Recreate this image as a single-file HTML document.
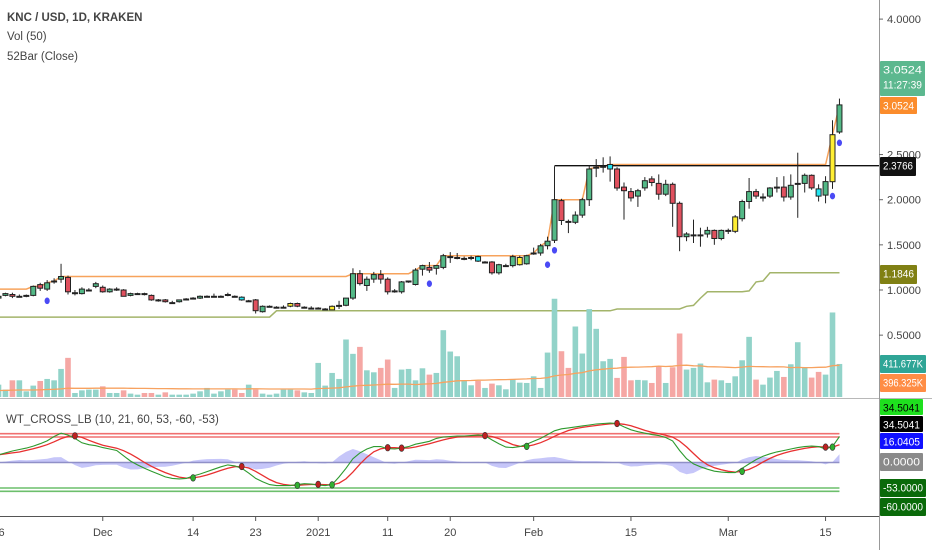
<!DOCTYPE html>
<html><head><meta charset="utf-8"><style>
html,body{margin:0;padding:0;background:#fff;width:932px;height:550px;overflow:hidden}
svg{display:block;font-family:"Liberation Sans",sans-serif}
</style></head><body>
<svg id="chart" width="932" height="550" viewBox="0 0 932 550">
<rect x="0" y="0" width="932" height="550" fill="#ffffff"/>
<g id="grid">
<line x1="0" y1="398.5" x2="932" y2="398.5" stroke="#b8b8b8" stroke-width="1"/>
<line x1="0" y1="516.5" x2="879" y2="516.5" stroke="#555" stroke-width="1"/>
<line x1="879.5" y1="0" x2="879.5" y2="550" stroke="#999" stroke-width="1"/>
</g>
<g id="priceg"></g><g id="volg"></g><g id="oscg"></g><g id="axisg"></g>
<g fill="#444" font-size="11.5">
<text x="7" y="21" font-weight="bold">KNC / USD, 1D, KRAKEN</text>
<text x="7" y="40">Vol (50)</text>
<text x="7" y="60">52Bar (Close)</text>
<text x="6" y="423">WT_CROSS_LB (10, 21, 60, 53, -60, -53)</text>
</g>
</svg>
<script>
const opens=[0.91,0.94,0.95,0.93,0.93,0.94,1.06,1.01,1.09,1.12,1.14,0.97,0.96,1.00,1.04,1.03,0.98,1.01,1.00,0.94,0.96,0.96,0.94,0.89,0.89,0.86,0.87,0.90,0.91,0.91,0.93,0.93,0.93,0.94,0.93,0.92,0.88,0.89,0.76,0.82,0.81,0.81,0.82,0.85,0.81,0.80,0.80,0.79,0.78,0.82,0.83,0.91,1.18,1.05,1.12,1.17,1.12,0.98,0.98,1.09,1.06,1.23,1.25,1.24,1.25,1.37,1.36,1.35,1.35,1.37,1.31,1.31,1.19,1.27,1.27,1.28,1.29,1.40,1.41,1.49,1.55,1.99,1.76,1.75,1.83,2.00,2.35,2.36,2.34,2.34,2.14,2.09,2.04,2.13,2.23,2.18,2.06,2.17,1.96,1.59,1.61,1.61,1.62,1.66,1.57,1.66,1.65,1.79,1.98,2.09,2.03,2.04,2.14,2.14,2.03,2.17,2.18,2.27,2.12,2.05,2.20,2.75];
const highs=[0.94,0.97,0.97,0.95,0.95,1.05,1.08,1.11,1.13,1.29,1.16,1.00,1.03,1.02,1.09,1.05,1.02,1.03,1.01,0.97,0.97,0.97,0.95,0.90,0.90,0.88,0.89,0.91,0.92,0.94,0.94,0.96,0.94,0.97,0.94,0.93,0.89,0.90,0.83,0.83,0.82,0.83,0.86,0.86,0.82,0.82,0.81,0.80,0.83,0.88,0.91,1.24,1.22,1.15,1.20,1.22,1.14,1.01,1.10,1.10,1.24,1.28,1.31,1.27,1.40,1.42,1.41,1.37,1.38,1.38,1.32,1.32,1.29,1.29,1.39,1.38,1.39,1.47,1.51,1.59,2.37,2.01,1.78,1.87,2.02,2.38,2.45,2.47,2.48,2.36,2.19,2.13,2.12,2.25,2.26,2.28,2.22,2.19,1.98,1.64,1.78,1.69,1.70,1.67,1.67,1.68,1.83,2.00,2.24,2.12,2.07,2.14,2.25,2.26,2.28,2.52,2.29,2.28,2.17,2.26,2.88,3.12];
const lows=[0.90,0.93,0.91,0.92,0.92,0.93,0.99,0.99,1.07,1.08,0.95,0.94,0.95,0.99,1.02,0.97,0.97,0.99,0.93,0.93,0.95,0.94,0.88,0.87,0.86,0.85,0.86,0.89,0.90,0.90,0.92,0.92,0.92,0.93,0.92,0.88,0.87,0.74,0.75,0.81,0.80,0.80,0.81,0.81,0.80,0.79,0.79,0.78,0.78,0.79,0.82,0.89,1.05,0.99,1.08,1.07,0.95,0.97,0.96,1.08,1.05,1.16,1.19,1.17,1.23,1.30,1.34,1.33,1.33,1.31,1.30,1.17,1.17,1.26,1.25,1.27,1.28,1.39,1.38,1.45,1.52,1.72,1.63,1.73,1.80,1.93,2.25,2.30,2.20,2.10,1.78,1.98,1.92,2.10,2.15,2.00,2.04,1.70,1.43,1.54,1.52,1.48,1.58,1.50,1.55,1.62,1.63,1.76,1.90,2.01,1.98,2.02,2.08,1.98,2.00,1.80,2.08,2.11,1.98,1.96,2.12,2.73];
const closes=[0.93,0.96,0.93,0.93,0.94,1.04,1.02,1.08,1.10,1.15,0.98,0.97,1.01,1.00,1.07,0.98,1.01,1.01,0.93,0.96,0.96,0.95,0.89,0.89,0.87,0.86,0.89,0.90,0.91,0.93,0.93,0.93,0.93,0.95,0.92,0.89,0.88,0.77,0.82,0.82,0.81,0.81,0.85,0.82,0.81,0.80,0.80,0.79,0.82,0.83,0.91,1.18,1.07,1.12,1.17,1.12,0.98,0.99,1.09,1.10,1.22,1.27,1.22,1.27,1.38,1.37,1.36,1.35,1.36,1.32,1.31,1.19,1.28,1.27,1.37,1.36,1.38,1.41,1.49,1.54,2.00,1.77,1.75,1.83,2.00,2.34,2.36,2.37,2.39,2.13,2.10,2.02,2.10,2.21,2.19,2.06,2.17,1.96,1.59,1.62,1.61,1.61,1.66,1.57,1.66,1.66,1.81,1.98,2.09,2.04,2.03,2.13,2.14,2.03,2.16,2.18,2.27,2.13,2.04,2.20,2.72,3.05];
const volumesK=[154,92,208,208,71,142,200,225,208,350,488,50,83,92,92,133,50,50,83,42,29,50,50,29,58,29,29,29,42,71,113,42,71,92,92,50,154,92,42,29,42,92,92,83,58,50,425,142,300,225,717,538,625,333,308,363,467,113,342,350,208,358,279,300,833,567,508,208,146,200,113,167,146,96,217,179,175,258,113,554,1225,571,363,879,542,1096,850,446,475,238,500,208,213,208,175,383,175,371,792,342,363,417,183,217,208,175,258,458,750,217,154,242,325,250,408,683,371,242,313,279,1054,412];
const wt1=[16,20,24,27,30,34,39,45,54,61,57,50,41,37,35,31,28,25,14,3,-5,-12,-18,-24,-30,-33,-34,-33,-28,-24,-19,-14,-9,-5,-7,-12,-22,-33,-40,-46,-48,-48,-48,-46,-44,-45,-47,-48,-46,-30,-12,8,20,28,33,33,29,28,30,33,38,41,44,50,53,54,55,55,56,57,56,47,39,32,31,33,38,44,50,58,66,70,72,74,76,78,80,81,82,81,74,68,64,61,58,56,52,45,25,8,-3,-9,-14,-18,-20,-21,-21,-12,-3,6,13,18,22,25,28,31,33,34,33,28,33,54];
const yellowBars=[42,48,75,106,120];
const cyanBars=[35,69,88,118];
const pivotIdx=[7,62,79,80,120,121];
const pivotPrice=[0.88,1.07,1.28,1.44,2.04,2.63];
const priceTicks=[4.0,2.5,2.0,1.5,1.0,0.5];
const priceTickLabels=["4.0000","2.5000","2.0000","1.5000","1.0000","0.5000"];
const dateTickIdx=[0,15,28,37,46,56,65,77,91,105,119];
const dateTickLabels=["16","Dec","14","23","2021","11","20","Feb","15","Mar","15"];
const hLineLevel=2.3766;
const oscLevels=[60,53,-53,-60];
const priorHigh=1.01, priorHighUntil=4, priorLow=0.70, priorLowUntil=39, priorVolK=80;

const NS="http://www.w3.org/2000/svg";
const step=6.95, x0=-1.5;
const X=i=>x0+i*step;
const Y=p=>290-(p-1)*90.3;
const VY=v=>397-v*0.0802;
const OY=v=>462.5-v*0.481;
function mk(tag,attrs,parent){const e=document.createElementNS(NS,tag);for(const k in attrs)e.setAttribute(k,attrs[k]);parent.appendChild(e);return e;}
const pg=document.getElementById('priceg'),vg=document.getElementById('volg'),og=document.getElementById('oscg'),ag=document.getElementById('axisg');
const N=closes.length;

const vma=[];
for(let i=0;i<N;i++){let s=0;for(let j=i-49;j<=i;j++)s+=j<0?priorVolK:volumesK[j];vma.push(s/50);}
for(let i=0;i<N;i++){
 const up=closes[i]>=opens[i];
 const r=mk('rect',{x:(X(i)-2.8).toFixed(2),y:VY(volumesK[i]).toFixed(2),width:5.6,height:(397-VY(volumesK[i])).toFixed(2),fill:up?'#92d3c9':'#f5a7a4'},vg);
 
 
}
const vl=mk('polyline',{points:vma.map((v,i)=>X(i).toFixed(1)+','+VY(v).toFixed(1)).join(' '),fill:'none',stroke:'#f7a260','stroke-width':1.3},vg);



const hi=[],lo=[];
for(let i=0;i<N;i++){let mx=-1e9,mn=1e9;for(let j=Math.max(0,i-51);j<=i;j++){mx=Math.max(mx,closes[j]);mn=Math.min(mn,closes[j]);}
 if(i<=priorHighUntil)mx=Math.max(mx,priorHigh); if(i<=priorLowUntil)mn=Math.min(mn,priorLow); hi.push(mx);lo.push(mn);}
const hl=mk('polyline',{points:hi.map((v,i)=>X(i).toFixed(1)+','+Y(v).toFixed(1)).join(' '),fill:'none',stroke:'#f7a35c','stroke-width':1.5},pg);


const ll=mk('polyline',{points:lo.map((v,i)=>X(i).toFixed(1)+','+Y(v).toFixed(1)).join(' '),fill:'none',stroke:'#a3b46a','stroke-width':1.5},pg);


const hz=mk('line',{x1:X(80),y1:Y(hLineLevel),x2:879,y2:Y(hLineLevel),stroke:'#111','stroke-width':1.3},pg);



for(let i=0;i<N;i++){
 const up=closes[i]>=opens[i];
 let col=up?'#53b987':'#e0505e';
 if(yellowBars.includes(i))col='#ffee33'; if(cyanBars.includes(i))col='#22e5f0';
 const g=mk('g',{},pg);
 
 
 const cx=X(i);
 mk('line',{x1:cx,x2:cx,y1:Y(highs[i]).toFixed(1),y2:Y(lows[i]).toFixed(1),stroke:'#222','stroke-width':1},g);
 const t=Y(Math.max(opens[i],closes[i])),b=Y(Math.min(opens[i],closes[i]));
 mk('rect',{x:(cx-2.5).toFixed(2),y:t.toFixed(1),width:5,height:Math.max(1,b-t).toFixed(1),fill:col,stroke:'#222','stroke-width':1},g);
}
for(let k=0;k<pivotIdx.length;k++){
 const d=mk('ellipse',{cx:X(pivotIdx[k]),cy:Y(pivotPrice[k]),rx:2.6,ry:3.3,fill:'#4a4af5'},pg);
 
 
}

const wt2=[];
for(let i=0;i<N;i++){let s=0,c=0;for(let j=Math.max(0,i-3);j<=i;j++){s+=wt1[j];c++;}wt2.push(s/c);}
for(let k=0;k<oscLevels.length;k++){
 const l=mk('line',{x1:0,x2:X(N-1),y1:OY(oscLevels[k]),y2:OY(oscLevels[k]),stroke:k<2?'#f07070':'#6cbf6c','stroke-width':1.6},og);
 
 
}
let ap='M'+X(0).toFixed(1)+','+OY(0);
for(let i=0;i<N;i++)ap+=' L'+X(i).toFixed(1)+','+OY(wt1[i]-wt2[i]).toFixed(1);
ap+=' L'+X(N-1).toFixed(1)+','+OY(0)+' Z';
const ar=mk('path',{d:ap,fill:'rgba(120,120,240,0.42)',stroke:'none'},og);


const zl=mk('line',{x1:0,x2:X(N-1),y1:OY(0),y2:OY(0),stroke:'#9090c8','stroke-width':1.6},og);


const l2=mk('polyline',{points:wt2.map((v,i)=>X(i).toFixed(1)+','+OY(v).toFixed(1)).join(' '),fill:'none',stroke:'#e83030','stroke-width':1.3},og);


const l1=mk('polyline',{points:wt1.map((v,i)=>X(i).toFixed(1)+','+OY(v).toFixed(1)).join(' '),fill:'none',stroke:'#2e9a2e','stroke-width':1.1},og);


for(let i=1;i<N;i++){
 const a=wt1[i-1]-wt2[i-1],b=wt1[i]-wt2[i];
 if(a*b<0||(a!==0&&b===0)){
  const dn=b<=0;
  const c=mk('ellipse',{cx:X(i),cy:OY(wt2[i]).toFixed(1),rx:2.5,ry:3.3,fill:dn?'#c02020':'#30b030',stroke:'#333','stroke-width':0.6},og);
  
  
 }
}

for(let k=0;k<priceTicks.length;k++){
 const y=Y(priceTicks[k]);
 mk('line',{x1:879,x2:883,y1:y,y2:y,stroke:'#666'},ag);
 const t=mk('text',{x:887,y:y+4,'font-size':11,fill:'#444',textLength:34,lengthAdjust:'spacingAndGlyphs'},ag);
 t.textContent=priceTickLabels[k];
 
 
}
for(let k=0;k<dateTickIdx.length;k++){
 const x=X(dateTickIdx[k]);
 mk('line',{x1:x,x2:x,y1:517,y2:521,stroke:'#555'},ag);
 const t=mk('text',{x:x,y:536,'font-size':11,fill:'#444','text-anchor':'middle'},ag);
 t.textContent=dateTickLabels[k];
 
 
}
function badge(y,h,w,bg,fg,lines,name){
 const g=mk('g',{},ag);
 
 
 mk('rect',{x:880,y:y,width:w,height:h,fill:bg,rx:1},g);
 lines.forEach((s,j)=>{const t=mk('text',{x:883,y:y+12.5+j*15,'font-size':11,fill:fg,textLength:w-6,lengthAdjust:'spacingAndGlyphs'},g);t.textContent=s;});
}
badge(61,35,45,'#5cb88f','#fff',['3.0524','11:27:39'],'last-price-badge');
badge(97,17,37,'#fb8c2c','#fff',['3.0524'],'ma-price-badge');
badge(157,19,36,'#111','#fff',['2.3766'],'line-price-badge');
badge(265,19,37,'#808014','#fff',['1.1846'],'52bar-low-badge');
badge(355,18,46,'#2fa596','#fff',['411.677K'],'volume-badge');
badge(374,18,46,'#ff8d45','#fff',['396.325K'],'volume-ma-badge');
badge(399,16,43,'#1ee01e','#000',['34.5041'],'wt1-badge');
badge(416,16,43,'#000','#fff',['34.5041'],'wt-level-badge');
badge(433,16,43,'#1010ff','#fff',['16.0405'],'wt2-badge');
badge(453,18,43,'#8a8a8a','#fff',['0.0000'],'zero-badge');
badge(479,18,46,'#0a6a0a','#fff',['-53.0000'],'os1-badge');
badge(498,18,46,'#0a6a0a','#fff',['-60.0000'],'os2-badge');
</script>
</body></html>
